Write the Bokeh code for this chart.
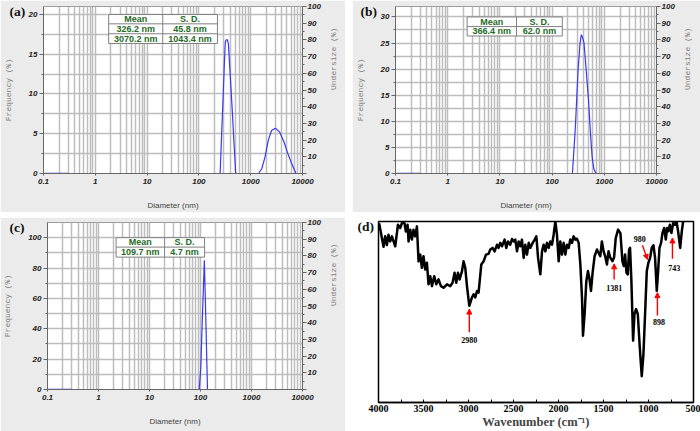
import math
from bokeh.plotting import figure
from bokeh.models import (Range1d, LinearAxis, FixedTicker, NumeralTickFormatter,
                          Arrow, NormalHead)
from bokeh.layouts import row, column
from bokeh.embed import file_html
from bokeh.resources import INLINE
from bokeh.core.properties import value

# ---------------- data ----------------
# (a) DLS, two populations
a_peak1_d = [257, 275, 295, 312, 323, 335, 355, 371, 400, 435, 475, 514]
a_peak1_f = [0, 5.0, 10.0, 14.2, 16.5, 16.8, 16.8, 16.3, 12.7, 8.6, 3.9, 0]
a_peak2_d = [1416, 1637, 1893, 2188, 2530, 3000, 3630, 4380, 5210, 6170, 7480]
a_peak2_f = [0, 0.6, 2.1, 4.2, 5.4, 5.7, 5.2, 4.0, 2.5, 1.25, 0]
# (b)
b_peak_d = [245, 279, 314, 343, 363, 385, 408, 445, 499, 544, 586, 631, 697]
b_peak_f = [0, 8.85, 19.75, 24.9, 26.6, 26.0, 25.0, 20.4, 14.0, 7.6, 3.1, 0.85, 0]
# (c)
c_peak_d = [94.4, 101.5, 109, 119, 128, 137]
c_peak_f = [0, 15, 48.1, 85.2, 42.6, 0]

# baselines
base_solid_d = [0.1, 0.3]
base_dot_d = [0.3, 10000]
base_f = [0, 0]

# tables
a_table = [["Mean", "S. D."], ["326.2 nm", "45.8 nm"], ["3070.2 nm", "1043.4 nm"]]
b_table = [["Mean", "S. D."], ["366.4 nm", "62.0 nm"]]
c_table = [["Mean", "S. D."], ["109.7 nm", "4.7 nm"]]

# axis ticks
log_major = [0.1, 1, 10, 100, 1000, 10000]
log_mult = [2, 3, 4, 5, 6, 7, 8, 9]
a_yticks = [0, 5, 10, 15, 20]
a_yminor = [2.5, 7.5, 12.5, 17.5]
b_yticks = [0, 5, 10, 15, 20, 25, 30]
b_yminor = [2.5, 7.5, 12.5, 17.5, 22.5, 27.5]
c_yticks = [0, 20, 40, 60, 80, 100]
c_yminor = [10, 30, 50, 70, 90]
u_ticks = [0, 10, 20, 30, 40, 50, 60, 70, 80, 90, 100]
u_minor = [5, 15, 25, 35, 45, 55, 65, 75, 85, 95]

# (d) FTIR spectrum (relative transmittance, % of frame height)
ftir_wn = [3993, 3944, 3926, 3907, 3889, 3870, 3851, 3814, 3784, 3759, 3733, 3711, 3696,
           3677, 3666, 3647, 3629, 3611, 3592, 3573, 3555, 3536, 3518, 3500, 3481, 3462,
           3444, 3425, 3406, 3381, 3358, 3333, 3306, 3277, 3239, 3203, 3177, 3155, 3136,
           3117, 3099, 3072, 3055, 3036, 3017, 2991, 2962, 2943, 2925, 2906, 2888, 2858,
           2832, 2806, 2777, 2758, 2732, 2710, 2683, 2666, 2647, 2628, 2599, 2580, 2561,
           2536, 2517, 2499, 2480, 2461, 2443, 2424, 2406, 2387, 2369, 2350, 2331, 2313,
           2287, 2265, 2246, 2227, 2202, 2183, 2165, 2146, 2128, 2109, 2091, 2072, 2054,
           2035, 2017, 1998, 1980, 1961, 1943, 1924, 1906, 1887, 1869, 1850, 1832, 1813,
           1795, 1776, 1757, 1739, 1728, 1710, 1691, 1673, 1658, 1639, 1621, 1599, 1573,
           1555, 1536, 1518, 1499, 1481, 1462, 1444, 1425, 1401, 1382, 1364, 1338, 1312,
           1290, 1275, 1260, 1245, 1230, 1216, 1205, 1190, 1171, 1156, 1138, 1119, 1097,
           1075, 1056, 1038, 1019, 1001, 982, 964, 945, 927, 908, 893, 878, 860, 845, 826,
           808, 793, 778, 763, 745, 726, 708, 689, 671, 648, 630, 615, 600]
ftir_t = [99, 86, 91.8, 87, 92.7, 89, 91.8, 86.3, 98.2, 96.4, 100, 99, 94.5,
          98.2, 89, 95.4, 90, 95.4, 91.8, 97.3, 78, 81.7, 74.4, 80.8, 73.5, 77.2,
          65.3, 69.8, 64.3, 69.8, 65.3, 68, 64.3, 63.4, 65.3, 64.3, 66.2, 71.7, 66.2,
          71.7, 68, 72.6, 78, 74.4, 64.3, 53.4, 58, 59.8, 58, 61.6, 60.7, 76.2,
          78, 81.7, 82.1, 84.5, 85.4, 83.5, 87.2, 85.4, 88.2, 86.3, 90, 85.4, 89,
          87.2, 90.3, 89, 90, 83.5, 89, 86.3, 90, 79.9, 87.2, 81.7, 88.2, 85.4,
          88.2, 90, 91.8, 79.9, 70.8, 83.5, 87.2, 83.5, 88.2, 85.4, 89, 87.2, 92.7,
          100, 92.7, 78, 89, 81.7, 88.2, 81.7, 87.2, 85.4, 90, 88.2, 91.8, 90,
          90.5, 88.2, 76.2, 58, 36.9, 48.8, 67, 72.6, 69, 61.6, 71.7, 80.8, 84.5,
          82.7, 80.8, 89, 83.5, 80.8, 76.2, 83.5, 80, 78.1, 80.3, 90.9, 95.5, 93.6,
          78.1, 75.4, 81.8, 71.7, 70.8, 84.5, 85.4, 67.1, 34.2, 48.9, 51.6, 48.9, 30.6,
          14.5, 26.9, 48.9, 72.6, 77.2, 79.9, 85.4, 86.9, 79.9, 61.7, 72.6, 85.4, 88.2, 93.6, 96.4,
          90, 96.4, 94.6, 98.2, 93.6, 99.1, 98.2, 100, 94.6, 85.4, 94.6, 100, 102]
wn_ticks = [4000, 3500, 3000, 2500, 2000, 1500, 1000, 500]
wn_minor = [3750, 3250, 2750, 2250, 1750, 1250, 750]

# peak annotations (d)
pk_text = ["2980", "1381", "980", "898", "743"]
pk_text_x = [2991, 1381, 1097, 882, 715]
pk_text_y = [34.6, 63.5, 90.5, 44.7, 74.1]
pk_arrow_x0 = [2991, 1382, 1067, 901, 734]
pk_arrow_y0 = [38.8, 68.0, 86.9, 48.0, 79.4]
pk_arrow_x1 = [2991, 1382, 1012, 901, 734]
pk_arrow_y1 = [51.6, 76.6, 79.0, 60.7, 90.9]

# ---------------- styling ----------------
BLUE = "#3838f4"
GRID = "#bdbdbd"
PANEL_BG = "#ebebeb"
GREEN = "#1f6a1f"
LOG_MINOR = [round(m * 10.0 ** k, 6) for k in range(-1, 4) for m in log_mult]


def style_axis(ax):
    ax.major_label_text_font = "Liberation Sans"
    ax.major_label_text_font_style = "bold italic"
    ax.major_label_text_font_size = "8px"
    ax.major_label_text_color = "#222222"
    ax.axis_line_color = "#666666"
    ax.major_tick_line_color = "#666666"
    ax.minor_tick_line_color = "#666666"
    ax.axis_label_text_font_style = "normal"
    ax.axis_label_text_font_size = "8px"


def set_tag(p, text, offset):
    t = p.title
    t.text = text
    t.align = "left"
    t.vertical_align = "bottom"
    t.offset = offset
    t.standoff = -25
    t.text_font = "Liberation Serif"
    t.text_font_style = "bold"
    t.text_font_size = "13.5px"
    t.text_color = "#111111"


def dls_panel(w, h, mb, ymax, yt, ym, tag, tag_off):
    p = figure(width=w, height=h, x_axis_type="log", x_range=Range1d(0.1, 10000),
               y_range=Range1d(0, ymax), output_backend="svg", toolbar_location=None,
               min_border_left=mb[0], min_border_right=mb[1],
               min_border_top=mb[2], min_border_bottom=mb[3])
    p.border_fill_color = PANEL_BG
    p.background_fill_color = "white"
    p.outline_line_color = "#9c9c9c"

    xt = FixedTicker(ticks=log_major, minor_ticks=LOG_MINOR)
    xa = p.xaxis[0]
    xa.ticker = xt
    xa.formatter = NumeralTickFormatter(format="0.[0]")
    style_axis(xa)
    xa.axis_label = "Diameter (nm)"
    xa.axis_label_text_font = "Liberation Sans"
    xa.axis_label_text_color = "#444444"
    xa.axis_label_standoff = 14
    xa.major_tick_out = 2
    xa.major_tick_in = 0
    xa.minor_tick_out = 0
    xa.minor_tick_in = 0
    xa.major_label_standoff = 3

    ytk = FixedTicker(ticks=yt, minor_ticks=ym)
    ya = p.yaxis[0]
    ya.ticker = ytk
    style_axis(ya)
    ya.axis_label = "Frequency (%)"
    ya.axis_label_text_font = "Liberation Mono"
    ya.axis_label_text_color = "#7a7a7a"
    ya.axis_label_standoff = 13
    ya.major_tick_out = 4
    ya.major_tick_in = 0
    ya.minor_tick_out = 2
    ya.minor_tick_in = 0
    ya.major_label_standoff = 2

    p.xgrid.ticker = xt
    p.ygrid.ticker = ytk
    for g in (p.xgrid[0], p.ygrid[0]):
        g.grid_line_color = GRID
        g.grid_line_width = 1.5
        g.minor_grid_line_color = GRID
        g.minor_grid_line_width = 1.5

    p.extra_y_ranges = {"u": Range1d(0, 100)}
    ra = LinearAxis(y_range_name="u", axis_label="Undersize (%)",
                    ticker=FixedTicker(ticks=u_ticks, minor_ticks=u_minor),
                    major_label_overrides={0: ""})
    style_axis(ra)
    ra.axis_label_text_font = "Liberation Mono"
    ra.axis_label_text_color = "#7a7a7a"
    ra.axis_label_standoff = 10
    ra.axis_label_orientation = math.pi / 2
    ra.major_tick_out = 4
    ra.major_tick_in = 0
    ra.minor_tick_out = 2
    ra.minor_tick_in = 0
    ra.major_label_standoff = 1
    p.add_layout(ra, "right")

    p.line(base_solid_d, base_f, color=BLUE, line_width=1.3)
    p.line(base_dot_d, base_f, color="#7070ff", line_width=1.2, line_dash="1 2")

    set_tag(p, tag, tag_off)
    return p


def draw_table(p, xe, ye, cells):
    l, m, r = [10 ** v for v in xe]
    top, bot = ye[0], ye[-1]
    p.quad(left=[l], right=[r], top=[top], bottom=[bot], fill_color="white",
           line_color="#808080", line_width=1)
    x0 = [m] + [l] * (len(ye) - 2)
    x1 = [m] + [r] * (len(ye) - 2)
    y0 = [top] + list(ye[1:-1])
    y1 = [bot] + list(ye[1:-1])
    p.segment(x0=x0, y0=y0, x1=x1, y1=y1, line_color="#808080", line_width=1)
    xs, ys, ts = [], [], []
    cx = [10 ** ((xe[0] + xe[1]) / 2), 10 ** ((xe[1] + xe[2]) / 2)]
    for i, rw in enumerate(cells):
        yc = (ye[i] + ye[i + 1]) / 2
        for j in range(2):
            xs.append(cx[j]); ys.append(yc); ts.append(rw[j])
    p.text(x=xs, y=ys, text=ts, text_font=value("Liberation Sans"), text_font_style="bold",
           text_font_size="9px", text_color=GREEN, text_align="center",
           text_baseline="middle")


# ---------- (a) ----------
pa = dls_panel(345, 212, (40, 39, 6, 39), 21, a_yticks, a_yminor, "(a)", -34)
pa.line(a_peak1_d, a_peak1_f, color=BLUE, line_width=1.2)
pa.line(a_peak2_d, a_peak2_f, color=BLUE, line_width=1.2)
draw_table(pa, (0.258, 1.302, 2.358), (19.99, 18.82, 17.57, 16.35), a_table)

# ---------- (b) ----------
pb = dls_panel(348, 212, (40, 44, 6, 39), 32, b_yticks, b_yminor, "(b)", -35)
pb.line(b_peak_d, b_peak_f, color=BLUE, line_width=1.2)
draw_table(pb, (0.372, 1.318, 2.195), (30.0, 28.15, 26.35), b_table)

# ---------- (c) ----------
pc = dls_panel(345, 214, (41, 39, 5, 42), 110, c_yticks, c_yminor, "(c)", -38)
pc.line(c_peak_d, c_peak_f, color=BLUE, line_width=1.2)
draw_table(pc, (0.345, 1.296, 2.08), (100.0, 93.8, 87.2), c_table)

# ---------- (d) ----------
pd = figure(width=348, height=214, x_range=Range1d(4000, 500), y_range=Range1d(0, 100),
            output_backend="svg", toolbar_location=None, min_border_left=26,
            min_border_right=7, min_border_top=4, min_border_bottom=28)
pd.yaxis.visible = False
pd.grid.visible = False
pd.outline_line_color = "black"
pd.outline_line_width = 1.5
pd.background_fill_color = "white"
pd.border_fill_color = "white"
dx = pd.xaxis[0]
dx.ticker = FixedTicker(ticks=wn_ticks, minor_ticks=wn_minor)
dx.major_label_text_font = "Liberation Serif"
dx.major_label_text_font_style = "bold"
dx.major_label_text_font_size = "10px"
dx.major_label_text_color = "black"
dx.axis_line_color = "black"
dx.axis_line_width = 1.5
dx.major_tick_in = 3
dx.major_tick_out = 0
dx.minor_tick_in = 3
dx.minor_tick_out = 0
dx.major_tick_line_color = "black"
dx.minor_tick_line_color = "black"
dx.major_label_standoff = 2
dx.axis_label = "Wavenumber (cm⁻¹)"
dx.axis_label_text_font = "Liberation Serif"
dx.axis_label_text_font_style = "bold"
dx.axis_label_text_font_size = "12.5px"
dx.axis_label_standoff = 0

pd.line(ftir_wn, ftir_t, color="black", line_width=2.5, line_join="round")
for i in range(len(pk_text)):
    pd.add_layout(Arrow(end=NormalHead(size=5, fill_color="red", line_color="red"),
                        x_start=pk_arrow_x0[i], y_start=pk_arrow_y0[i],
                        x_end=pk_arrow_x1[i], y_end=pk_arrow_y1[i],
                        line_color="red", line_width=1.4))
pd.text(x=pk_text_x, y=pk_text_y, text=pk_text, text_font=value("Liberation Serif"),
        text_font_style="bold", text_font_size="8px", text_color="black",
        text_align="center", text_baseline="middle")
set_tag(pd, "(d)", -21)

layout = column(row(column(pa), column(pb), spacing=7),
                row(column(pc), column(pd), spacing=7), spacing=5)
open("out.html", "w").write(file_html(layout, INLINE))
